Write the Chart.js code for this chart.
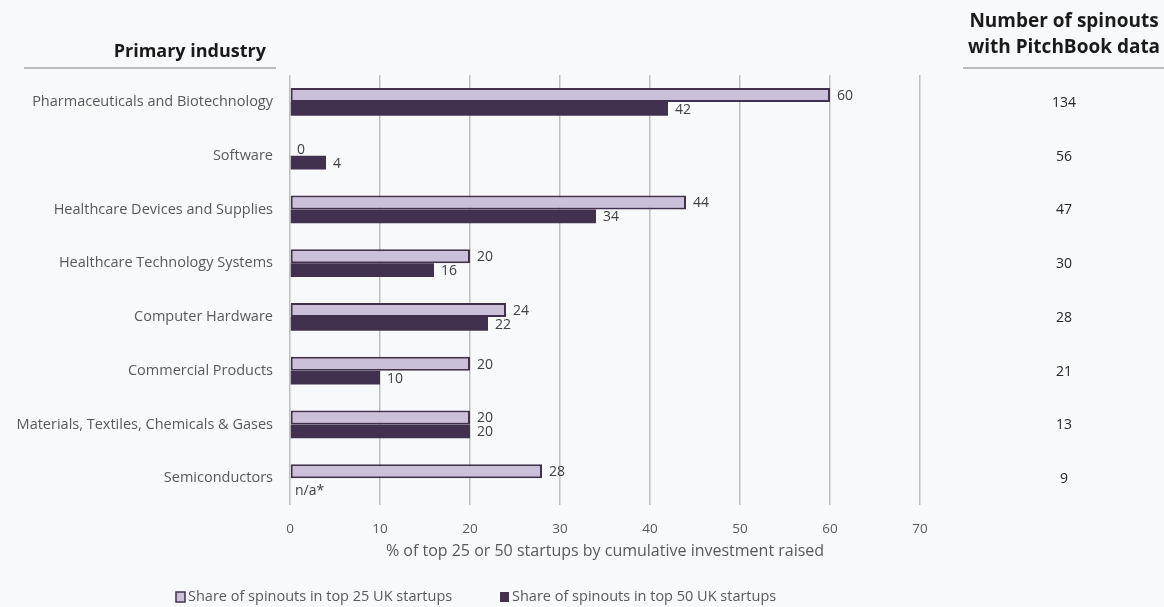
<!DOCTYPE html>
<html>
<head>
<meta charset="utf-8">
<script src="https://cdn.jsdelivr.net/npm/chart.js@4/dist/chart.umd.min.js"></script>
<style>
  html, body { margin: 0; padding: 0; background: #f8f9fb; }
  #wrap { width: 1164px; height: 607px; position: relative; }
</style>
</head>
<body>
<div id="wrap"><canvas id="spinoutChart"></canvas></div>
<script>
// Chart data
const industries = [
    'Pharmaceuticals and Biotechnology',
    'Software',
    'Healthcare Devices and Supplies',
    'Healthcare Technology Systems',
    'Computer Hardware',
    'Commercial Products',
    'Materials, Textiles, Chemicals & Gases',
    'Semiconductors'
];
const top25Share = [60, 0, 44, 20, 24, 20, 20, 28];
const top50Share = [42, 4, 34, 16, 22, 10, 20, null];
const spinoutCounts = [134, 56, 47, 30, 28, 21, 13, 9];
const xTicks = [0, 10, 20, 30, 40, 50, 60, 70];

const lightPurple = '#cbc0d9';
const darkPurple = '#41314f';
const textGrey = '#595959';
const fontFamily = '"Open Sans", "Noto Sans", sans-serif';

// Labels, headers, right-hand column and legend
const extrasPlugin = {
    id: 'extras',
    beforeDraw(chart) {
        const ctx = chart.ctx;
        ctx.save();
        ctx.fillStyle = '#f8f9fb';
        ctx.fillRect(0, 0, chart.width, chart.height);
        ctx.restore();
    },
    afterDraw(chart) {
        const ctx = chart.ctx;
        const yScale = chart.scales.y;
        const area = chart.chartArea;
        ctx.save();

        // value labels at the end of each bar
        ctx.font = '14px ' + fontFamily;
        ctx.fillStyle = '#404040';
        ctx.textBaseline = 'middle';
        ctx.textAlign = 'left';
        [0, 1].forEach(function(di) {
            const meta = chart.getDatasetMeta(di);
            const values = chart.data.datasets[di].data;
            meta.data.forEach(function(bar, i) {
                const v = values[i];
                if (v === null) {
                    const lightBar = chart.getDatasetMeta(0).data[i];
                    ctx.fillText('n/a*', area.left + 5, lightBar.y + 20);
                    return;
                }
                if (v === 0) {
                    ctx.fillText('0', area.left + 7, bar.y + 1);
                    return;
                }
                ctx.fillText(String(v), bar.x + 7, bar.y + 1);
            });
        });

        // headers
        ctx.font = 'bold 18px ' + fontFamily;
        ctx.fillStyle = '#1a1a1a';
        ctx.textAlign = 'right';
        ctx.fillText('Primary industry', 266, 52);
        ctx.textAlign = 'center';
        ctx.font = 'bold 19px ' + fontFamily;
        ctx.fillText('Number of spinouts', 1064, 22);
        ctx.fillText('with PitchBook data', 1064, 48);

        ctx.strokeStyle = '#a6a6a6';
        ctx.lineWidth = 1.5;
        ctx.beginPath();
        ctx.moveTo(24, 68);
        ctx.lineTo(276, 68);
        ctx.moveTo(963, 68);
        ctx.lineTo(1164, 68);
        ctx.stroke();

        // counts column
        ctx.font = '14px ' + fontFamily;
        ctx.fillStyle = '#262626';
        spinoutCounts.forEach(function(n, i) {
            ctx.fillText(String(n), 1064, yScale.getPixelForValue(i) + 1);
        });

        // legend
        const legendY = 597;
        ctx.textAlign = 'left';
        ctx.font = '14.5px ' + fontFamily;
        ctx.fillStyle = lightPurple;
        ctx.fillRect(176, legendY - 5, 9, 10);
        ctx.strokeStyle = darkPurple;
        ctx.lineWidth = 1.5;
        ctx.strokeRect(176, legendY - 5, 9, 10);
        ctx.fillStyle = textGrey;
        ctx.fillText('Share of spinouts in top 25 UK startups', 188, legendY);
        ctx.fillStyle = darkPurple;
        ctx.fillRect(500, legendY - 5, 9, 10);
        ctx.fillStyle = textGrey;
        ctx.fillText('Share of spinouts in top 50 UK startups', 512, legendY);

        ctx.restore();
    }
};

const ctx = document.getElementById('spinoutChart').getContext('2d');
const spinoutChart = new Chart(ctx, {
    type: 'bar',
    data: {
        labels: industries,
        datasets: [
            {
                label: 'Share of spinouts in top 25 UK startups',
                data: top25Share,
                backgroundColor: lightPurple,
                borderColor: darkPurple,
                borderWidth: 2,
                borderSkipped: false,
                categoryPercentage: 0.52,
                barPercentage: 1.0
            },
            {
                label: 'Share of spinouts in top 50 UK startups',
                data: top50Share,
                backgroundColor: darkPurple,
                borderWidth: 0,
                categoryPercentage: 0.52,
                barPercentage: 1.0
            }
        ]
    },
    options: {
        responsive: true,
        maintainAspectRatio: false,
        animation: false,
        indexAxis: 'y',
        layout: {
            padding: { top: 75, right: 244, bottom: 42, left: 0 }
        },
        plugins: {
            legend: { display: false },
            tooltip: { enabled: false }
        },
        scales: {
            x: {
                min: 0,
                max: 70,
                afterBuildTicks: function(scale) {
                    scale.ticks = xTicks.map(v => ({ value: v }));
                },
                afterFit: function(scale) { scale.height = 60; },
                grid: { color: '#bfbfbf', lineWidth: 1.5, drawTicks: false },
                border: { display: false },
                ticks: { color: textGrey, padding: 16, font: { family: fontFamily, size: 13.5 } },
                title: {
                    display: true,
                    text: '% of top 25 or 50 startups by cumulative investment raised',
                    color: textGrey,
                    padding: { top: 4, bottom: 4 },
                    font: { family: fontFamily, size: 16 }
                }
            },
            y: {
                afterFit: function(scale) { scale.width = 290; },
                grid: { display: false, drawTicks: false },
                border: { display: false },
                ticks: { color: textGrey, padding: 17, font: { family: fontFamily, size: 14.5 } }
            }
        }
    },
    plugins: [extrasPlugin]
});
</script>
</body>
</html>
